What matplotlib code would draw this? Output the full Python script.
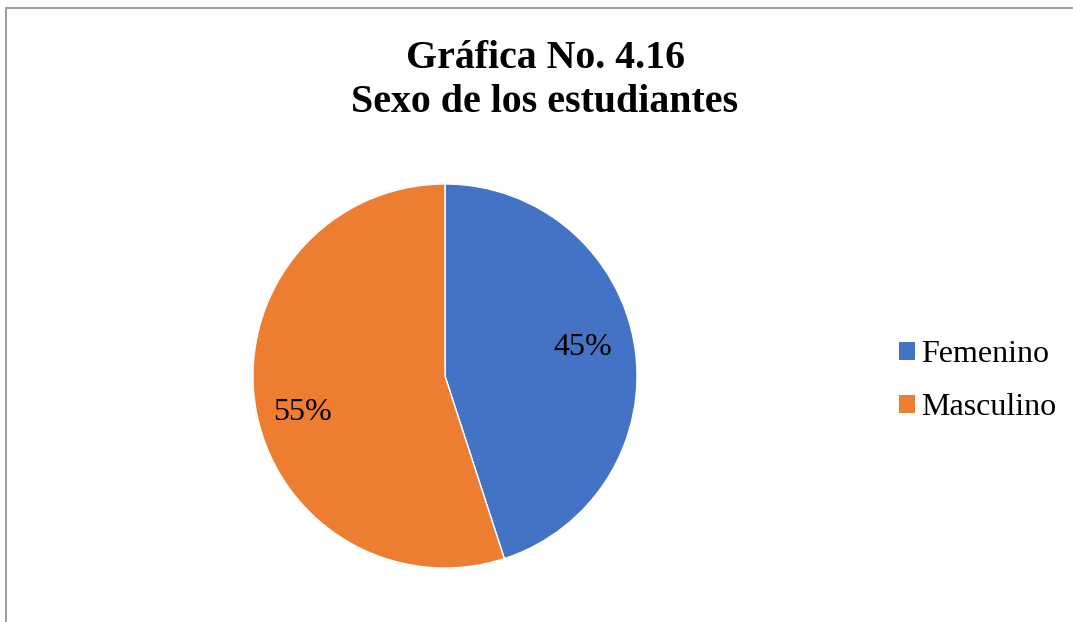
import matplotlib
matplotlib.use("Agg")
from matplotlib import pyplot as plt
from matplotlib.patches import Patch, Rectangle

# data
labels = ["Femenino", "Masculino"]
values = [45, 55]
colors = ["#4472C4", "#ED7D31"]
title = "Gráfica No. 4.16\nSexo de los estudiantes"

plt.rcParams["font.family"] = ["Liberation Serif", "DejaVu Serif"]

fig = plt.figure(figsize=(10.73, 6.22), dpi=100)

# thin gray frame (top + left visible, like the cropped source)
fig.patches.append(Rectangle((6 / 1073, -0.05), 1.1, 1 - 8 / 622 + 0.05,
                             transform=fig.transFigure, fill=False,
                             edgecolor="#a0a0a0", lw=1.5))

ax = fig.add_axes([253 / 1073, 54 / 622, 384 / 1073, 384 / 622])
wedges, _, autotexts = ax.pie(values, colors=colors, startangle=90, counterclock=False,
                              autopct="%1.0f%%", pctdistance=0.74,
                              wedgeprops=dict(edgecolor="white", linewidth=1),
                              textprops=dict(fontsize=23, color="black"))
ax.set_xlim(-1, 1); ax.set_ylim(-1, 1)
ax.set_aspect("equal")
# label placement nudged like the source (Excel puts them off the mid-line a bit)
autotexts[0].set_position((0.72, 0.15))
autotexts[1].set_position((-0.74, -0.19))

fig.text(545 / 1073, 1 - 81 / 622, title, ha="center", va="center",
         fontsize=28.7, fontweight="bold", linespacing=1.25)

handles = [Patch(facecolor=c, edgecolor="none") for c in colors]
fig.legend(handles, labels, loc="center left", bbox_to_anchor=(899 / 1073, 1 - 381 / 622),
           frameon=False, fontsize=23, handlelength=0.5, handleheight=0.5,
           handletextpad=0.2, labelspacing=0.75, borderaxespad=0, borderpad=0)

fig.savefig("out.png", dpi=100, facecolor="white")
